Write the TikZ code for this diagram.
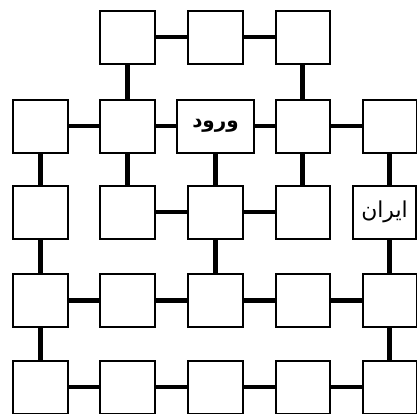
\documentclass[tikz,border=0pt]{standalone}
\usepackage{fontspec}
\newfontfamily\arabicfont[Script=Arabic]{DejaVu Sans}
\TeXXeTstate=1
\begin{document}
\begin{tikzpicture}[x=1bp,y=-1bp,
  cell/.style={draw=black, line width=2bp, fill=white, minimum width=54bp, minimum height=53bp, inner sep=0pt, anchor=center},
  link/.style={line width=4.5bp}]
\useasboundingbox (0,0) rectangle (417,414);
% row 0
\node[cell] (a1) at (127.5,37) {};
\node[cell] (a2) at (215.5,37) {};
\node[cell] (a3) at (302.5,37) {};
% row 1
\node[cell] (b0) at (40.5,126) {};
\node[cell] (b1) at (127.5,126) {};
\node[cell, minimum width=77bp] (b2) at (215.5,126) {\arabicfont\bfseries\fontsize{20}{24}\selectfont\beginR ورود\endR};
\node[cell] (b3) at (302.5,126) {};
\node[cell] (b4) at (389.5,126) {};
% row 2
\node[cell] (c0) at (40.5,212) {};
\node[cell] (c1) at (127.5,212) {};
\node[cell] (c2) at (215.5,212) {};
\node[cell] (c3) at (302.5,212) {};
\node[cell, minimum width=63bp] (c4) at (384.5,212) {\arabicfont\fontsize{22}{26}\selectfont\beginR ایران\endR};
% row 3
\node[cell] (d0) at (40.5,300.5) {};
\node[cell] (d1) at (127.5,300.5) {};
\node[cell] (d2) at (215.5,300.5) {};
\node[cell] (d3) at (302.5,300.5) {};
\node[cell] (d4) at (389.5,300.5) {};
% row 4
\node[cell] (e0) at (40.5,387) {};
\node[cell] (e1) at (127.5,387) {};
\node[cell] (e2) at (215.5,387) {};
\node[cell] (e3) at (302.5,387) {};
\node[cell] (e4) at (389.5,387) {};
% horizontal links
\draw[link] (a1) -- (a2);
\draw[link] (a2) -- (a3);
\draw[link] (b0) -- (b1);
\draw[link] (b1) -- (b2);
\draw[link] (b2) -- (b3);
\draw[link] (b3) -- (b4);
\draw[link] (c1) -- (c2);
\draw[link] (c2) -- (c3);
\draw[link] (d0) -- (d1);
\draw[link] (d1) -- (d2);
\draw[link] (d2) -- (d3);
\draw[link] (d3) -- (d4);
\draw[link] (e0) -- (e1);
\draw[link] (e1) -- (e2);
\draw[link] (e2) -- (e3);
\draw[link] (e3) -- (e4);
% vertical links
\draw[link] (a1) -- (b1);
\draw[link] (a3) -- (b3);
\draw[link] (b0) -- (c0);
\draw[link] (b1) -- (c1);
\draw[link] (b2) -- (c2);
\draw[link] (b3) -- (c3);
\draw[link] (b4.south) -- (b4.south |- c4.north);
\draw[link] (c0) -- (d0);
\draw[link] (c2) -- (d2);
\draw[link] (d4.north) -- (d4.north |- c4.south);
\draw[link] (d0) -- (e0);
\draw[link] (d4) -- (e4);
\end{tikzpicture}
\end{document}
